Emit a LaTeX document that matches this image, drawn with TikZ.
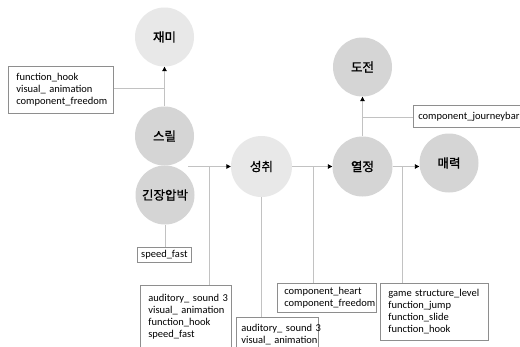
\documentclass[tikz,border=0pt]{standalone}
\usepackage{fontspec}
\setmainfont{Carlito}
\newfontfamily\kr{Noto Sans CJK KR}[FakeBold=1.2]
\usetikzlibrary{arrows.meta}
\definecolor{lightc}{HTML}{E8E8E8}
\definecolor{darkc}{HTML}{D5D5D5}
\definecolor{linec}{HTML}{C2C2C2}
\definecolor{boxc}{HTML}{8E8E8E}
\newcommand{\boxline}[1]{\leavevmode\rlap{#1}}
\begin{document}
\begin{tikzpicture}[x=1pt,y=-1pt,
  circ/.style={circle, minimum size=59pt, inner sep=0pt, font=\kr\fontsize{12.5}{14}\selectfont},
  lt/.style={circ, fill=lightc},
  dk/.style={circ, fill=darkc},
  conn/.style={draw=linec, line width=0.9pt},
  arr/.style={conn, -{Triangle[length=4.5pt,width=4.5pt,black]}},
  lbl/.style={draw=boxc, line width=0.7pt, anchor=north west, align=left, inner ysep=0pt,
    font=\fontsize{10.5}{12}\selectfont}]
\useasboundingbox (0,0) rectangle (520,346);
\fill[white] (0,0) rectangle (520,346);

% circles
\node[lt] (jaemi) at (164.5,37) {재미};
\node[dk] (thrill) at (164.5,136) {스릴};
\node[dk] (tension) at (165,195) {긴장압박};
\node[lt, minimum size=61pt] (achieve) at (261.5,166.5) {성취};
\node[dk] (challenge) at (362.5,67) {도전};
\node[dk, minimum size=60pt] (passion) at (362.5,166.5) {열정};
\node[dk] (charm) at (449,163) {매력};

% boxes
\node[lbl, inner xsep=8pt, text width=89pt, minimum height=47pt] (b1) at (8,66)
  {\boxline{function\_hook}\\\boxline{visual\_ animation}\\\boxline{component\_freedom}};
\node[lbl, inner xsep=3.5pt, minimum width=54pt, minimum height=15pt] (b2) at (137,247)
  {speed\_fast};
\node[lbl, inner xsep=8pt, text width=75pt, minimum height=62pt] (b3) at (140,285)
  {\boxline{auditory\_ sound 3}\\\boxline{visual\_ animation}\\\boxline{function\_hook}\\\boxline{speed\_fast}};
\node[lbl, inner xsep=5pt, text width=72pt, minimum height=34pt] (b4) at (236,317)
  {\boxline{auditory\_ sound 3}\\\boxline{visual\_ animation}};
\node[lbl, inner xsep=7pt, text width=85pt, minimum height=29pt] (b5) at (277,283)
  {\boxline{component\_heart}\\\boxline{component\_freedom}};
\node[lbl, inner xsep=5pt, text width=110pt, minimum height=22pt] (b6) at (413,105)
  {\boxline{component\_journeybar}};
\node[lbl, inner xsep=8pt, text width=92pt, minimum height=57pt] (b7) at (380,283)
  {\boxline{game structure\_level}\\\boxline{function\_jump}\\\boxline{function\_slide}\\\boxline{function\_hook}};

% junction coordinates
\coordinate (s1) at (188,166.5);
\coordinate (j1) at (209,166.5);
\coordinate (j2) at (313,166.5);
\coordinate (j3) at (402,166.5);
\coordinate (j4) at (362.5,117);

% connectors
\draw[arr] (thrill.north) -- (jaemi.south);
\draw[conn] (b1.east |- 0,88) -- (thrill.north |- 0,88);
\draw[arr] (s1) -- (achieve.west);
\draw[conn] (j1) -- (j1 |- b3.north);
\draw[conn] (tension.south) -- (tension.south |- b2.north);
\draw[conn] (achieve.south) -- (achieve.south |- b4.north);
\draw[arr] (achieve.east) -- (passion.west);
\draw[conn] (j2) -- (j2 |- b5.north);
\draw[arr] (passion.north) -- (challenge.south);
\draw[conn] (j4) -- (j4 -| b6.west);
\draw[arr] (passion.east) -- (passion.east -| charm.west);
\draw[conn] (j3) -- (j3 |- b7.north);
\end{tikzpicture}
\end{document}
